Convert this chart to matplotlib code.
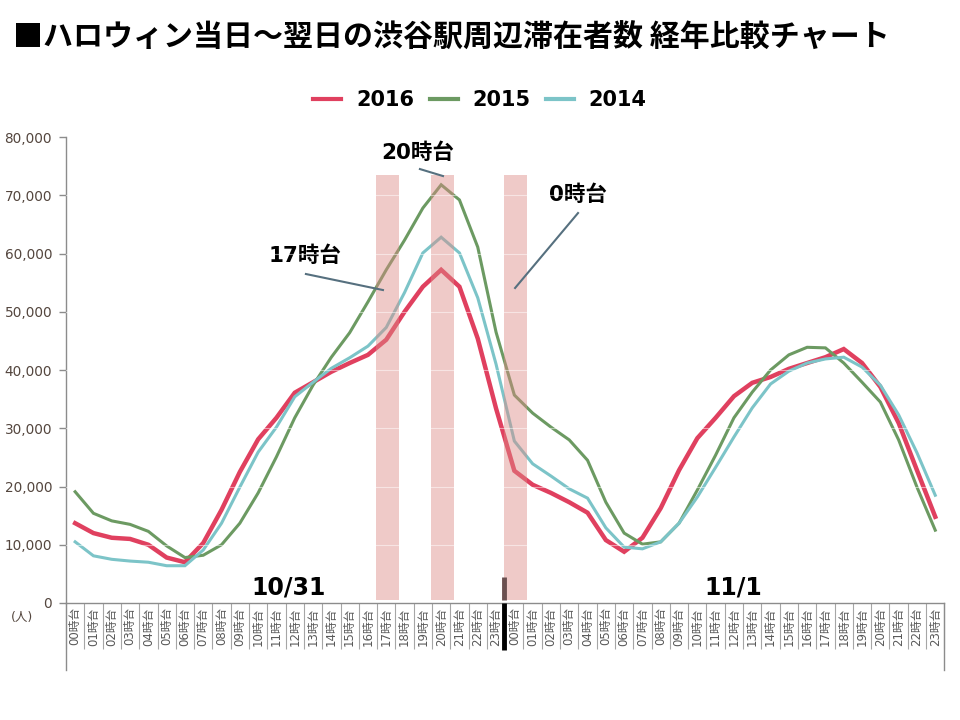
import numpy as np
import matplotlib
matplotlib.use('Agg')
import matplotlib.pyplot as plt
import matplotlib.transforms as mtransforms
from matplotlib.ticker import FuncFormatter

plt.rcParams['font.family'] = ['DejaVu Sans', 'Noto Sans CJK JP']

# ------------------------------------------------------------------
# Data: people around Shibuya station per hour
# 10/31 00時台 .. 23時台, then 11/1 00時台 .. 23時台
# ------------------------------------------------------------------
hours = [f'{h:02d}時台' for h in range(24)] * 2
days = ['10/31', '11/1']
years = ['2016', '2015', '2014']

y2016 = [13700, 12000, 11200, 11000, 10000, 7800, 7000, 10300, 16000, 22500,
         28100, 31800, 36100, 37900, 39700, 41200, 42600, 45200, 50000, 54300,
         57200, 54300, 45400, 33400,
         22700, 20300, 18900, 17300, 15500, 10800, 8800, 11200, 16300, 22800,
         28300, 31800, 35500, 37800, 38800, 40200, 41200, 42200, 43600, 41200,
         37100, 30900, 22800, 14800]
y2015 = [19100, 15400, 14100, 13500, 12300, 9800, 7800, 8200, 10000, 13700,
         18900, 25100, 31800, 37400, 42200, 46400, 51700, 57200, 62300, 67800,
         71800, 69200, 61100, 46500,
         35700, 32600, 30200, 28000, 24500, 17300, 12000, 10100, 10500, 13700,
         19400, 25400, 31800, 36200, 40000, 42600, 43900, 43800, 41200, 37900,
         34500, 28000, 19900, 12500]
y2014 = [10500, 8100, 7500, 7200, 7000, 6400, 6400, 9100, 13700, 19900,
         25900, 30200, 35400, 37900, 40300, 42100, 44100, 47300, 53300, 60100,
         62800, 60100, 52400, 41000,
         27800, 23900, 21800, 19600, 18000, 12900, 9600, 9300, 10500, 13700,
         18200, 23300, 28500, 33500, 37600, 39800, 41200, 41900, 42200, 40500,
         37400, 32300, 25800, 18500]

# highlighted hours (index into the 48 categories) and their labels
band_idx = [17, 20, 24]
band_labels = ['17時台', '20時台', '0時台']

colors = {'2016': '#E0405F', '2015': '#6C9A62', '2014': '#7CC4C8'}
widths = {'2016': 3.2, '2015': 2.2, '2014': 2.2}

x = np.arange(len(hours))

fig = plt.figure(figsize=(9.6, 7.2), dpi=100)
ax = fig.add_axes([0.06875, 0.1625, 0.915, 0.6472])

# ------------------------------------------------------------------
# Lines
# ------------------------------------------------------------------
for name, vals in zip(years, [y2016, y2015, y2014]):
    ax.plot(x, vals, color=colors[name], lw=widths[name], label=name,
            solid_joinstyle='miter', zorder=2)

# pink bands drawn over the lines
for i in band_idx:
    ax.fill_between([i - 0.56, i + 0.68], 500, 73400, color='#DC8A85',
                    alpha=0.45, lw=0, zorder=3)

# faint white gridlines (only visible on the bands)
for g in range(10000, 80000, 10000):
    ax.axhline(g, color='white', lw=0.8, alpha=0.5, zorder=4)

# ------------------------------------------------------------------
# Axes styling
# ------------------------------------------------------------------
ax.set_xlim(-0.5, 47.5)
ax.set_ylim(0, 80000)
ax.set_yticks(range(0, 80001, 10000))
ax.yaxis.set_major_formatter(FuncFormatter(lambda v, p: f'{int(v):,}'))
ax.tick_params(axis='y', labelsize=9.8, labelcolor='#54463E', color='#8C8C8C',
               length=5, width=1, pad=5)

ax.set_xticks(x)
ax.set_xticklabels(hours, rotation=90, fontsize=8.5, color='#595959')
ax.tick_params(axis='x', length=0, pad=3)
ax.set_xticks(np.arange(-0.5, 48, 1), minor=True)
ax.tick_params(axis='x', which='minor', length=33, width=0.8, color='#A6A6A6')

for s in ['top', 'right']:
    ax.spines[s].set_visible(False)
for s in ['left', 'bottom']:
    ax.spines[s].set_color('#8C8C8C')
    ax.spines[s].set_linewidth(1)

# outer separators of the two-level category axis
trans = mtransforms.blended_transform_factory(ax.transData, ax.transAxes)
ax.plot([-0.5, -0.5], [0, -0.144], transform=trans, color='#8C8C8C', lw=1,
        clip_on=False)
ax.plot([47.5, 47.5], [0, -0.144], transform=trans, color='#8C8C8C', lw=1,
        clip_on=False)
# day boundary marker
ax.plot([23.46, 23.46], [0, -0.101], transform=trans, color='black', lw=3.5,
        clip_on=False, solid_capstyle='butt', zorder=5)
ax.plot([23.46, 23.46], [0.0055, 0.0558], transform=trans, color='#6B5050',
        lw=3.5, clip_on=False, solid_capstyle='butt', zorder=5)

# ------------------------------------------------------------------
# Annotations
# ------------------------------------------------------------------
ax.text(12.56, 59600, band_labels[0], fontsize=15.5, fontweight='bold',
        ha='center', va='center')
ax.plot([12.61, 16.82], [56480, 53730], color='#56707F', lw=1.5, zorder=6)
ax.text(18.73, 77250, band_labels[1], fontsize=15.5, fontweight='bold',
        ha='center', va='center', clip_on=False)
ax.plot([18.84, 20.1], [74500, 73300], color='#56707F', lw=1.5, zorder=6)
ax.text(27.47, 70050, band_labels[2], fontsize=15.5, fontweight='bold',
        ha='center', va='center')
ax.plot([27.48, 24.04], [66950, 54080], color='#56707F', lw=1.5, zorder=6)

ax.text(11.64, 2600, days[0], fontsize=17, fontweight='bold',
        ha='center', va='center')
ax.text(35.95, 2600, days[1], fontsize=17, fontweight='bold',
        ha='center', va='center')

fig.text(0.023, 0.143, '(人)', fontsize=9, color='#54463E',
         ha='center', va='center')

# ------------------------------------------------------------------
# Legend and title
# ------------------------------------------------------------------
leg = fig.legend(loc='center', bbox_to_anchor=(0.5, 0.861), ncol=3,
                 frameon=False, prop={'size': 15, 'weight': 'bold'},
                 handlelength=1.35, handletextpad=0.7, columnspacing=0.75)
for line in leg.get_lines():
    line.set_linewidth(3)

fig.text(0.014, 0.947, '■ハロウィン当日～翌日の渋谷駅周辺滞在者数 経年比較チャート',
         fontsize=21.6, fontweight='bold', ha='left', va='center',
         family=['Noto Sans CJK JP', 'DejaVu Sans'])

fig.savefig('out.png', dpi=100)
